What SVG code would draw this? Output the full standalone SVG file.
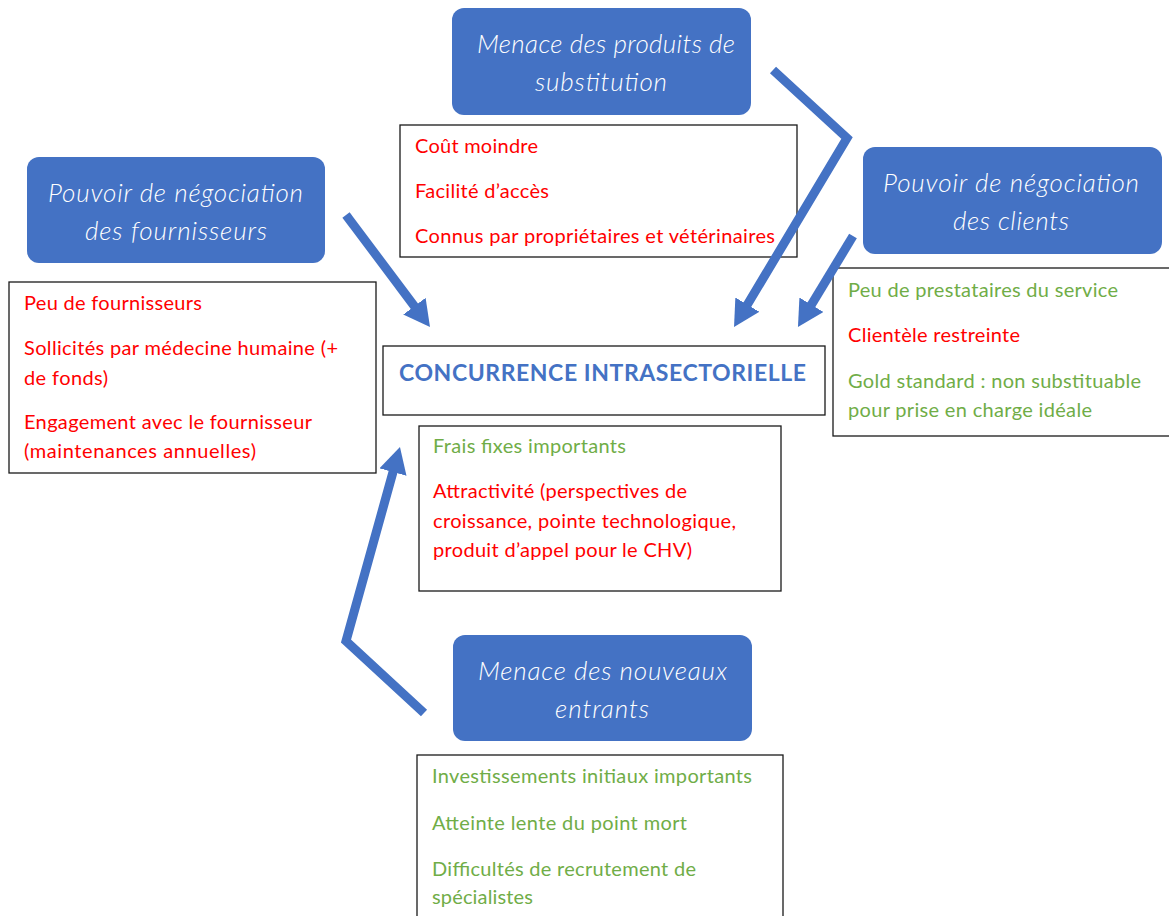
<svg xmlns="http://www.w3.org/2000/svg" width="1169" height="916" viewBox="0 0 1169 916">
  <style>
    .force { fill: #4472C4; }
    .ftitle { font-family: Lato, "Liberation Sans", sans-serif; font-style: italic; font-weight: 300; font-size: 26px; fill: #ffffff; }
    .list { fill: #ffffff; stroke: #1a1a1a; stroke-width: 1.3; }
    .item { font-family: Lato, "Liberation Sans", sans-serif; font-size: 20px; }
    .red { fill: #FF0000; }
    .green { fill: #70AD47; }
    .core { font-family: Lato, "Liberation Sans", sans-serif; font-weight: bold; font-size: 23px; fill: #4472C4; }
    .conn { fill: none; stroke: #4472C4; stroke-width: 9; stroke-linejoin: miter; stroke-miterlimit: 10; marker-end: url(#head); }
  </style>
  <defs>
    <marker id="head" viewBox="0 0 26 28" refX="6" refY="14" markerWidth="26" markerHeight="28" markerUnits="userSpaceOnUse" orient="auto">
      <path d="M0,0 L26,14 L0,28 z" fill="#4472C4"/>
    </marker>
  </defs>
  <rect width="1169" height="916" fill="#ffffff"/>

  <g id="substitution">
    <rect class="force" x="452" y="8" width="299" height="107" rx="12"/>
    <text class="ftitle" x="477" y="53" textLength="258">Menace des produits de</text>
    <text class="ftitle" x="535" y="91" textLength="132">substitution</text>
  </g>
  <g id="substitution-list">
    <rect class="list" x="400" y="125" width="397" height="132"/>
    <text class="item red" x="415" y="153" textLength="123">Coût moindre</text>
    <text class="item red" x="415" y="198" textLength="134">Facilité d’accès</text>
    <text class="item red" x="415" y="243" textLength="360">Connus par propriétaires et vétérinaires</text>
  </g>

  <g id="fournisseurs">
    <rect class="force" x="27" y="157" width="298" height="106" rx="12"/>
    <text class="ftitle" x="48" y="202" textLength="255">Pouvoir de négociation</text>
    <text class="ftitle" x="85" y="240" textLength="182">des fournisseurs</text>
  </g>
  <g id="fournisseurs-list">
    <rect class="list" x="9" y="282" width="367" height="191"/>
    <text class="item red" x="24" y="310" textLength="178">Peu de fournisseurs</text>
    <text class="item red" x="24" y="355" textLength="314">Sollicités par médecine humaine (+</text>
    <text class="item red" x="24" y="385" textLength="84">de fonds)</text>
    <text class="item red" x="24" y="429" textLength="288">Engagement avec le fournisseur</text>
    <text class="item red" x="24" y="458" textLength="232">(maintenances annuelles)</text>
  </g>

  <g id="clients">
    <rect class="force" x="863" y="147" width="299" height="107" rx="12"/>
    <text class="ftitle" x="883" y="192" textLength="256">Pouvoir de négociation</text>
    <text class="ftitle" x="953" y="230" textLength="116">des clients</text>
  </g>
  <g id="clients-list">
    <rect class="list" x="833" y="268" width="345" height="168"/>
    <text class="item green" x="848" y="297" textLength="270">Peu de prestataires du service</text>
    <text class="item red" x="848" y="342" textLength="172">Clientèle restreinte</text>
    <text class="item green" x="848" y="388" textLength="293">Gold standard : non substituable</text>
    <text class="item green" x="848" y="417" textLength="244">pour prise en charge idéale</text>
  </g>

  <g id="concurrence">
    <rect class="list" x="383" y="346" width="442" height="69"/>
    <text class="core" x="399" y="381" textLength="407">CONCURRENCE INTRASECTORIELLE</text>
  </g>
  <g id="concurrence-list">
    <rect class="list" x="419" y="426" width="362" height="165"/>
    <text class="item green" x="433" y="453" textLength="193">Frais fixes importants</text>
    <text class="item red" x="433" y="498" textLength="254">Attractivité (perspectives de</text>
    <text class="item red" x="433" y="528" textLength="303">croissance, pointe technologique,</text>
    <text class="item red" x="433" y="557" textLength="259">produit d’appel pour le CHV)</text>
  </g>

  <g id="entrants">
    <rect class="force" x="453" y="635" width="299" height="106" rx="12"/>
    <text class="ftitle" x="478" y="680" textLength="249">Menace des nouveaux</text>
    <text class="ftitle" x="555" y="718" textLength="94">entrants</text>
  </g>
  <g id="entrants-list">
    <rect class="list" x="417" y="755" width="366" height="175"/>
    <text class="item green" x="432" y="783" textLength="320">Investissements initiaux importants</text>
    <text class="item green" x="432" y="830" textLength="255">Atteinte lente du point mort</text>
    <text class="item green" x="432" y="876" textLength="264">Difficultés de recrutement de</text>
    <text class="item green" x="432" y="904" textLength="101">spécialistes</text>
  </g>

  <g id="connectors">
    <path class="conn" d="M346,215 L418,311"/>
    <path class="conn" d="M773,70 L847,138 L744.3,309.8"/>
    <path class="conn" d="M853,236 L808.3,309.9"/>
    <path class="conn" d="M424,713 L346,641 L394.6,466.3"/>
  </g>
</svg>
